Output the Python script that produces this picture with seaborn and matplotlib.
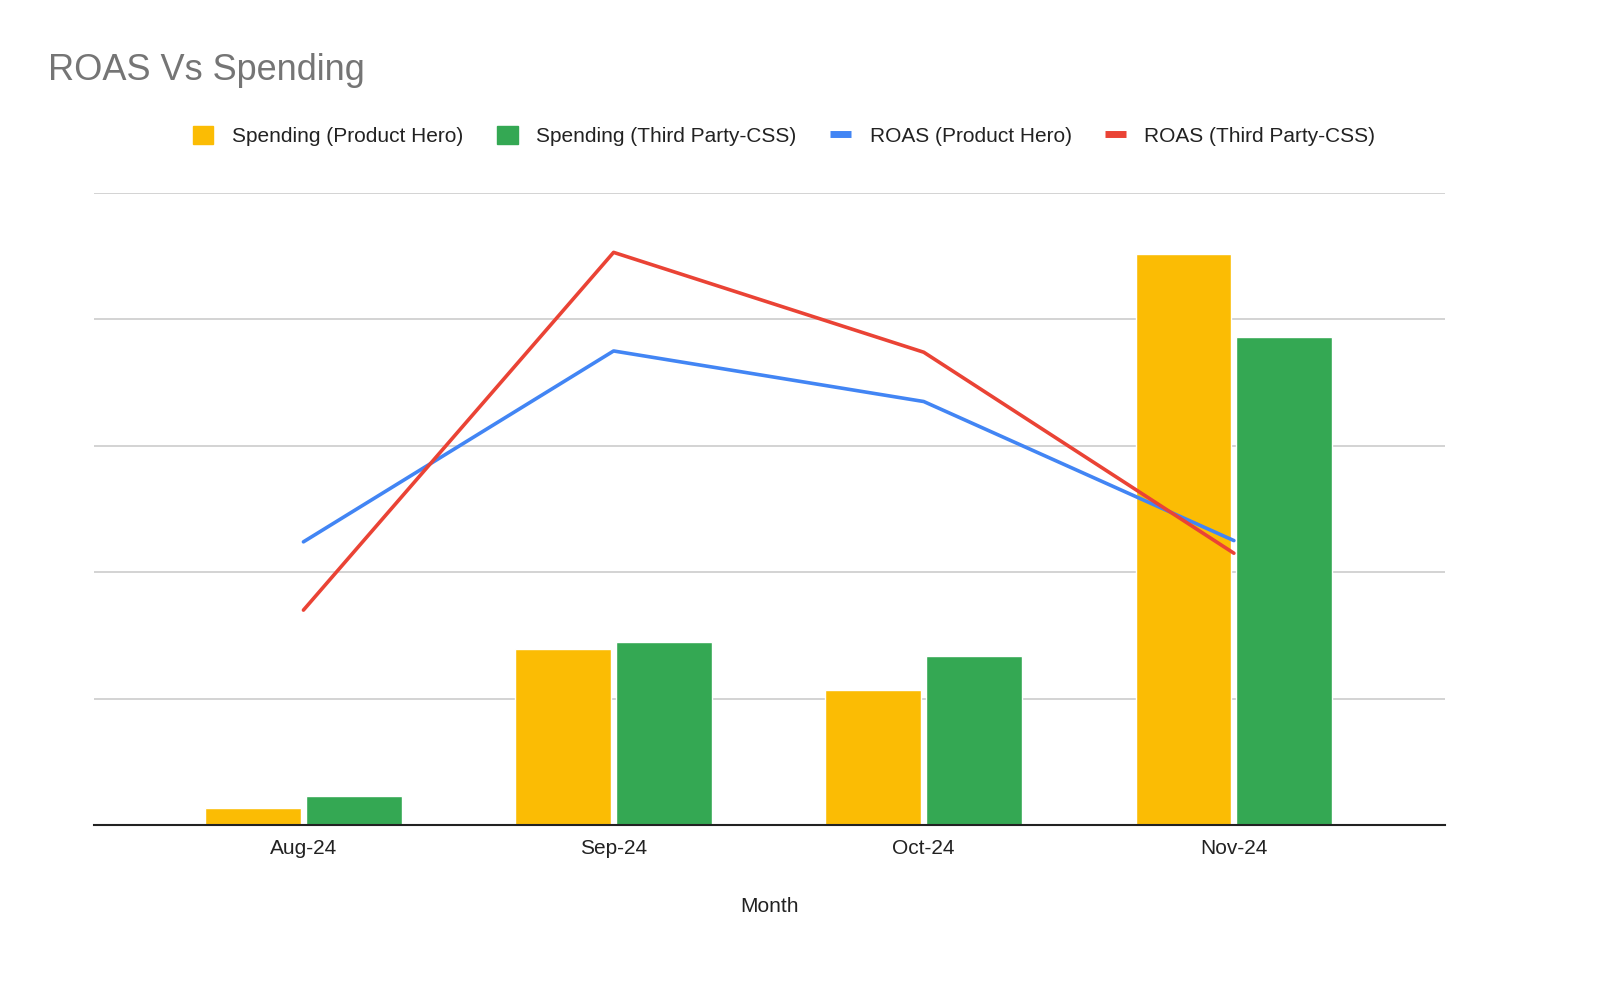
import matplotlib
matplotlib.use("Agg")
import matplotlib.pyplot as plt
import seaborn as sns
import pandas as pd
from matplotlib.patches import Patch
from matplotlib.lines import Line2D

months = ["Aug-24", "Sep-24", "Oct-24", "Nov-24"]
spend_ph = [0.134, 1.39, 1.07, 4.52]
spend_css = [0.23, 1.45, 1.34, 3.86]
roas_ph = [2.24, 3.75, 3.35, 2.25]
roas_css = [1.70, 4.53, 3.74, 2.15]

series_names = ["Spending (Product Hero)", "Spending (Third Party-CSS)",
                "ROAS (Product Hero)", "ROAS (Third Party-CSS)"]
colors = ["#FBBC04", "#34A853", "#4285F4", "#EA4335"]

sns.set_theme(style="white")
plt.rcParams['font.family'] = ['Liberation Sans', 'DejaVu Sans']

bars = pd.DataFrame({
    "Month": months * 2,
    "Value": spend_ph + spend_css,
    "Series": [series_names[0]] * 4 + [series_names[1]] * 4,
})
lines = pd.DataFrame({
    "Month": months * 2,
    "Value": roas_ph + roas_css,
    "Series": [series_names[2]] * 4 + [series_names[3]] * 4,
})

fig = plt.figure(figsize=(16, 9.86), dpi=100)
ax = fig.add_axes([0.059, 0.1633, 0.844, 0.641])

sns.barplot(data=bars, x="Month", y="Value", hue="Series",
            palette=colors[:2], width=0.65, gap=0.05, ax=ax,
            legend=False, saturation=1)

ax2 = ax.twinx()
sns.lineplot(data=lines, x="Month", y="Value", hue="Series",
             palette=colors[2:], linewidth=2.6, ax=ax2, legend=False, sort=False)
ax2.set_ylim(0, 5)
ax2.set_xlim(-0.674, 3.68)
ax2.axis("off")

ax.set_xlim(-0.674, 3.68)
ax.set_ylim(0, 5)
ax.set_yticks([1, 2, 3, 4, 5])
ax.yaxis.grid(True, color="#cccccc", linewidth=1.2)
ax.set_axisbelow(True)
ax.tick_params(axis="y", left=False, right=False, labelleft=False, length=0)
ax.tick_params(axis="x", bottom=False, length=0, labelsize=15, colors="#222222", pad=10)
for s in ["top", "right", "left"]:
    ax.spines[s].set_visible(False)
ax.spines["bottom"].set_color("#222222")
ax.spines["bottom"].set_linewidth(1.5)
ax.set_ylabel("")
ax.set_xlabel("Month", fontsize=15, color="#222222", labelpad=28)

fig.text(0.03, 0.929, "ROAS Vs Spending", fontsize=26, color="#757575",
         ha="left", va="center")

handles = [Patch(facecolor=colors[0], edgecolor=colors[0]),
           Patch(facecolor=colors[1], edgecolor=colors[1]),
           Line2D([0], [0], color=colors[2], linewidth=5, solid_capstyle="butt"),
           Line2D([0], [0], color=colors[3], linewidth=5, solid_capstyle="butt")]
fig.legend(handles, series_names, loc="center", bbox_to_anchor=(0.49, 0.862),
           ncol=4, frameon=False, fontsize=15, handlelength=1.0,
           handleheight=1.0, columnspacing=1.6, handletextpad=0.9,
           labelcolor="#222222")

fig.savefig("out.png", dpi=100, facecolor="white")
